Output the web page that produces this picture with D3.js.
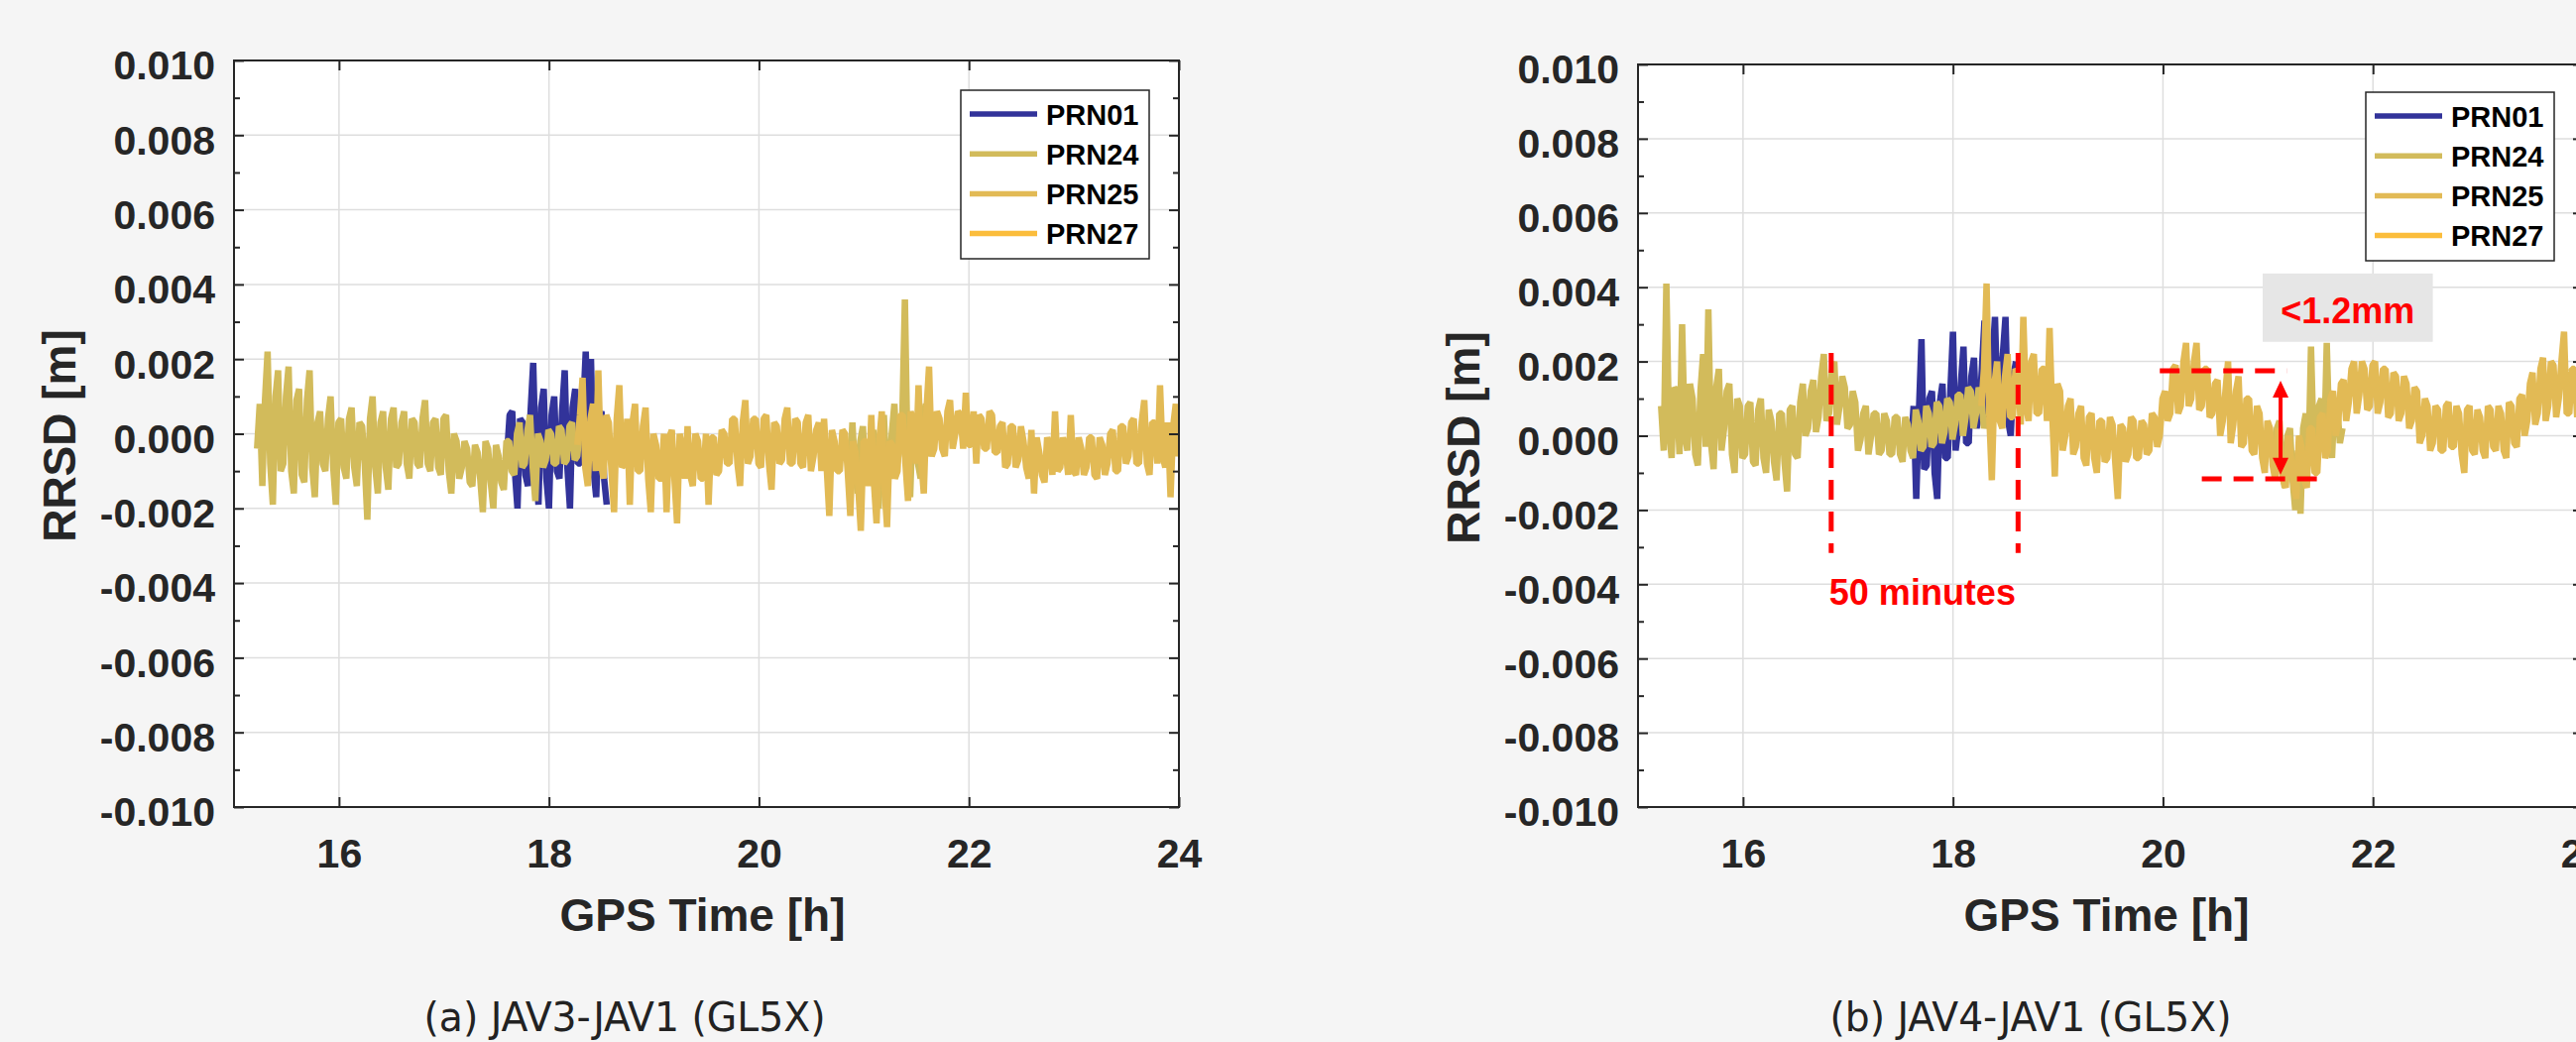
<!DOCTYPE html>
<html>
<head>
<meta charset="utf-8">
<script src="https://cdn.jsdelivr.net/npm/d3@7"></script>
<style>
  html, body { margin: 0; padding: 0; background: #f5f5f5; }
  svg { display: block; }
</style>
</head>
<body>
<div id="chart"></div>
<script>
// AXES
var xDomain = [15, 24];
var yDomain = [-0.010, 0.010];
var xTicks = [16, 18, 20, 22, 24];
var xTickLabels = ["16", "18", "20", "22", "24"];
var yTicks = [-0.010, -0.008, -0.006, -0.004, -0.002, 0.000, 0.002, 0.004, 0.006, 0.008, 0.010];
var yTickLabels = ["-0.010", "-0.008", "-0.006", "-0.004", "-0.002", "0.000", "0.002", "0.004", "0.006", "0.008", "0.010"];
var yMinor = [-0.009, -0.007, -0.005, -0.003, -0.001, 0.001, 0.003, 0.005, 0.007, 0.009];

var prnNames = ["PRN01", "PRN24", "PRN25", "PRN27"];
var prnColors = ["#32339a", "#d2bb5b", "#e2ba55", "#fbbd3c"];
var captions = ["(a) JAV3-JAV1 (GL5X)", "(b) JAV4-JAV1 (GL5X)"];

// SERIES, one value every DT hours, in units of 0.1 mm
var DT = 0.025;

// panel (a) JAV3-JAV1
var aPRN01Start = 17.60;
var aPRN01 = [-6,5,6,-10,-20,4,3,-11,-14,6,19,-9,-19,7,12,-12,-20,5,10,-10,
  -12,6,17,-9,-20,7,12,-8,-8,6,22,-5,20,-10,-17,4,6,-12,-19];
var aPRN24Start = 15.22;
var aPRN24 = [-4,8,-14,9,22,-8,-19,10,17,-10,-8,10,18,-10,-16,9,12,-11,-13,9,
  17,-9,-17,3,6,-8,-10,4,10,-9,-19,3,4,-9,-12,4,7,-9,-14,3,
  2,-8,-23,4,10,-9,-16,3,6,-9,-15,4,7,-9,-8,3,6,-8,-12,4,
  3,-8,-9,4,9,-8,-10,3,4,-9,-11,4,5,-10,-16,0,-2,-12,-9,-2,
  -4,-13,-14,-3,-5,-12,-21,-2,-4,-13,-20,-3,-6,-13,-15,-2,-2,-10,-11,0,
  3,-9,-8,1,5,-9,-18,0,-2,-9,-7,1,0,-8,-8,2,1,-8,-7,2,
  3,-7,-6,2,-2];
var aPRN24bStart = 20.84;
var aPRN24b = [-6,-12,3,-10,-16,-2,2,-13,-12,-1,1,-14,-20,-2,5,-12,-11,0,8,-8,
  -4,4,36,-6,-17,4,5,-8,-12,5,8,-6,-3];
var aPRN25Start = 18.27;
var aPRN25 = [-3,5,15,-9,-14,4,8,-10,17,-8,-12,5,3,-10,-21,4,13,-9,-8,4,
  -19,3,8,-10,-10,2,7,-12,-21,0,-3,-12,-12,0,-21,-1,1,-12,-24,0,
  -4,-12,2,-11,-14,0,-2,-12,-12,0,-19,-1,-1,-11,-10,1,0,-8,-8,4,
  4,-8,-14,3,9,-8,-6,4,4,-8,-9,4,5,-8,-15,3,2,-8,-7,4,
  7,-8,-8,4,3,-8,-9,3,5,-10,-6,1,3,-10,4,-9,-22,1,-2,-10,
  -10,1,0,-10,-22,-2,-5,-14,-26,-2,-2,-14,5,-13,-24,-2,6,-14,-25,-2,
  -3,-12,-10,5,5,-8,-18,6,3,-8,13,-7,-16,6,18,-6,-4,6,4,-4,
  -6,6,9,-4,0,6,5,-4,11,-3,-3,6,-8,5,4,-4,-4,6,5,-5,
  -5,2,3,-9,-8,2,2,-9,-7,2,-2,-9,-12,1,-16,-1,-5,-11,-13,-1,
  -3,-11,6,-10,-9,-1,-4,-11,5,-10,-11,-1,-4,-11,-9,-1,-1,-11,-12,-1,
  -3,-11,-8,0,1,-10,-10,2,2,-8,-6,3,4,-8,-8,3,9,-8,-11,3,
  3,-8,13,-6,-9,3,-17,2,8,-6,-2];
var aPRN27Start = 22.00;
var aPRN27 = [];

// panel (b) JAV4-JAV1
var bPRN01Start = 17.60;
var bPRN01 = [-3,8,-17,6,26,-9,-8,10,12,-10,-17,9,14,-6,-6,12,28,-4,2,14,
  24,-2,-2,16,21,2,6,18,31,4,8,20,32,6,14,22,32,4,0,16,20];
var bPRN24Start = 15.22;
var bPRN24 = [8,-4,41,2,-6,13,12,-5,30,0,-4,14,10,-5,-8,12,22,-3,34,-2,
  -9,13,18,-4,2,12,14,-5,-10,10,8,-6,-5,8,9,-7,-8,7,10,-6,
  -10,7,4,-7,-12,6,6,-7,-15,7,8,-5,-6,9,14,0,2,12,15,1,
  5,16,22,4,6,17,20,3,8,16,13,2,3,12,9,-4,-1,6,8,-5,
  0,6,6,-5,-4,6,4,-5,-5,5,5,-5,-7,5,3,-4,-6,7,4,-4,
  -3,8,6,-3,-2,9,8,-2,1,10,9,-1,3,11,11,0,5,13,12,2,
  6,13,10,2,5];
var bPRN24bStart = 21.06;
var bPRN24b = [-8,2,4,-10,-14,0,2,-12,-20,-4,-21,2,6,-8,24,-2,-8,8,10,-4,
  25,0,-6,10,8,-2,2];
var bPRN25Start = 18.27;
var bPRN25 = [8,18,41,6,-12,14,20,4,2,16,22,5,5,18,17,3,32,8,4,20,
  22,6,6,18,18,4,29,6,-11,14,12,-4,0,8,10,-5,-3,6,8,-6,
  -8,5,6,-6,-10,4,4,-7,-6,5,3,-7,-17,3,2,-7,-5,5,4,-6,
  -6,4,3,-5,-4,6,5,-3,0,10,12,4,6,18,19,6,8,20,25,8,
  10,20,25,7,8,18,18,5,6,14,15,0,4,12,20,-2,3,12,16,-3,
  -2,10,10,-4,-5,8,6,-6,-10,4,2,-8,-12,2,-4,-12,-14,0,-6,-13,
  -17,0,-3,-12,-14,2,2,-10,-10,5,6,-6,-4,10,12,0,4,14,15,4,
  9,18,20,6,11,20,18,7,8,19,20,6,9,18,18,5,6,17,16,4,
  6,16,14,2,4,13,12,-2,0,10,8,-4,-2,8,7,-4,-4,8,9,-3,
  -3,8,6,-5,-10,7,8,-4,-5,7,5,-4,-6,8,7,-3,-4,8,6,-4,
  -6,9,8,-2,-3,10,11,0,4,14,17,3,6,18,21,4,8,20,19,5,
  10,20,28,6,6,18,18,5,10];
var bPRN27Start = 22.00;
var bPRN27 = [];

// ANNOTATIONS (panel b), data units
var spanTimes = [16.84, 18.62];
var spanRange = [-0.00316, 0.00223];
var spanLabel = "50 minutes";
var bandTopT = [19.97, 21.18], bandTopV = 0.00175;
var bandBotT = [20.37, 21.57], bandBotV = -0.00116;
var arrowT = 21.12, arrowRange = [-0.00105, 0.00148];
var boxT = [20.95, 22.57], boxRange = [0.00253, 0.00437];
var boxLabel = "<1.2mm";

var svgWidth = 2598, svgHeight = 1051;
var axisColor = "#262626";
var font = "'Liberation Sans', Arial, Helvetica, sans-serif";

var svg = d3.select("#chart").append("svg")
  .attr("width", svgWidth)
  .attr("height", svgHeight);

svg.append("rect")
  .attr("width", svgWidth)
  .attr("height", svgHeight)
  .attr("fill", "#f5f5f5");

var panels = [
  { id: "a", left: 236, top: 61, width: 953, height: 753, capX: 630, legendX: 969, legendY: 91,
    series: [[0, aPRN01Start, aPRN01], [1, aPRN24Start, aPRN24], [1, aPRN24bStart, aPRN24b],
             [2, aPRN25Start, aPRN25], [3, aPRN27Start, aPRN27]] },
  { id: "b", left: 1652, top: 65, width: 953, height: 749, capX: 2048, legendX: 2386, legendY: 93,
    series: [[0, bPRN01Start, bPRN01], [1, bPRN24Start, bPRN24], [1, bPRN24bStart, bPRN24b],
             [2, bPRN25Start, bPRN25], [3, bPRN27Start, bPRN27]] }
];

function styleTicks(g) {
  g.select(".domain").remove();
  g.selectAll(".tick line").attr("stroke", axisColor).attr("stroke-width", 2);
  g.selectAll("text")
    .attr("fill", axisColor)
    .attr("font-family", font)
    .attr("font-weight", "bold")
    .attr("font-size", 41);
}

function drawPanel(p, i) {
  var x = d3.scaleLinear().domain(xDomain).range([p.left, p.left + p.width]);
  var y = d3.scaleLinear().domain(yDomain).range([p.top + p.height, p.top]);
  var bottom = p.top + p.height;

  svg.append("clipPath").attr("id", "clip-" + p.id)
    .append("rect")
      .attr("x", p.left).attr("y", p.top)
      .attr("width", p.width).attr("height", p.height);

  svg.append("rect")
    .attr("x", p.left).attr("y", p.top)
    .attr("width", p.width).attr("height", p.height)
    .attr("fill", "white");

  // GRID
  var grid = svg.append("g").attr("stroke", "#dedede").attr("stroke-width", 1.5);
  grid.selectAll(null).data(xTicks).enter().append("line")
    .attr("x1", function(d) { return x(d); })
    .attr("x2", function(d) { return x(d); })
    .attr("y1", p.top).attr("y2", bottom);
  grid.selectAll(null).data(yTicks).enter().append("line")
    .attr("y1", function(d) { return y(d); })
    .attr("y2", function(d) { return y(d); })
    .attr("x1", p.left).attr("x2", p.left + p.width);

  // DATA LINES
  var line = d3.line()
    .x(function(d) { return x(d[0]); })
    .y(function(d) { return y(d[1]); });
  var plot = svg.append("g").attr("clip-path", "url(#clip-" + p.id + ")");
  p.series.forEach(function(s) {
    if (!s[2].length) return;
    var pts = s[2].map(function(v, k) { return [s[1] + k * DT, v * 1e-4]; });
    plot.append("path")
      .datum(pts)
      .attr("d", line)
      .attr("fill", "none")
      .attr("stroke", prnColors[s[0]])
      .attr("stroke-width", 6.5)
      .attr("stroke-linejoin", "bevel");
  });

  // AXES (ticks point inward, box on)
  var left = svg.append("g")
    .attr("transform", "translate(" + p.left + ",0)")
    .call(d3.axisLeft(y).tickValues(yTicks).tickSize(-10).tickSizeOuter(0).tickPadding(19)
      .tickFormat(function(d, k) { return yTickLabels[k]; }));
  styleTicks(left);
  left.selectAll("text").attr("dy", "0.46em");

  styleTicks(svg.append("g").attr("transform", "translate(" + p.left + ",0)")
    .call(d3.axisLeft(y).tickValues(yMinor).tickSize(-6).tickSizeOuter(0).tickFormat("")));
  styleTicks(svg.append("g").attr("transform", "translate(" + (p.left + p.width) + ",0)")
    .call(d3.axisRight(y).tickValues(yTicks).tickSize(-10).tickSizeOuter(0).tickFormat("")));
  styleTicks(svg.append("g").attr("transform", "translate(" + (p.left + p.width) + ",0)")
    .call(d3.axisRight(y).tickValues(yMinor).tickSize(-6).tickSizeOuter(0).tickFormat("")));

  var bot = svg.append("g")
    .attr("transform", "translate(0," + bottom + ")")
    .call(d3.axisBottom(x).tickValues(xTicks).tickSize(-10).tickSizeOuter(0).tickPadding(32)
      .tickFormat(function(d, k) { return xTickLabels[k]; }));
  styleTicks(bot);
  styleTicks(svg.append("g").attr("transform", "translate(0," + p.top + ")")
    .call(d3.axisTop(x).tickValues(xTicks).tickSize(-10).tickSizeOuter(0).tickFormat("")));

  svg.append("rect")
    .attr("x", p.left).attr("y", p.top)
    .attr("width", p.width).attr("height", p.height)
    .attr("fill", "none")
    .attr("stroke", axisColor)
    .attr("stroke-width", 2);

  // AXIS TITLES
  svg.append("text")
    .attr("x", p.left + p.width / 2 - 4)
    .attr("y", 939)
    .attr("text-anchor", "middle")
    .attr("font-family", font).attr("font-weight", "bold").attr("font-size", 46)
    .attr("fill", axisColor)
    .text("GPS Time [h]");

  svg.append("text")
    .attr("transform", "translate(" + (p.left - 160) + "," + (p.top + p.height / 2 + 2) + ") rotate(-90)")
    .attr("text-anchor", "middle")
    .attr("font-family", font).attr("font-weight", "bold").attr("font-size", 46)
    .attr("fill", axisColor)
    .text("RRSD [m]");

  // LEGEND
  var lg = svg.append("g").attr("transform", "translate(" + p.legendX + "," + p.legendY + ")");
  lg.append("rect")
    .attr("width", 190).attr("height", 170)
    .attr("fill", "white")
    .attr("stroke", axisColor)
    .attr("stroke-width", 1.5);
  var item = lg.selectAll(null).data(prnNames).enter().append("g")
    .attr("transform", function(d, k) { return "translate(0," + (24 + k * 40.2) + ")"; });
  item.append("line")
    .attr("x1", 9).attr("x2", 77)
    .attr("stroke", function(d, k) { return prnColors[k]; })
    .attr("stroke-width", 5.5);
  item.append("text")
    .attr("x", 86).attr("y", 10.5)
    .attr("font-family", font).attr("font-weight", "bold").attr("font-size", 29)
    .attr("fill", "black")
    .text(function(d) { return d; });

  // CAPTION
  svg.append("text")
    .attr("x", p.capX)
    .attr("y", 1040)
    .attr("text-anchor", "middle")
    .attr("font-family", "'Liberation Sans Narrow', 'DejaVu Sans Condensed', Roboto, sans-serif")
    .attr("font-weight", 300)
    .attr("font-size", 40)
    .attr("fill", "#222")
    .attr("textLength", 405)
    .attr("lengthAdjust", "spacingAndGlyphs")
    .text(captions[i]);

  return { x: x, y: y };
}

var scales = panels.map(drawPanel);

// RED ANNOTATIONS ON PANEL (b)
var xb = scales[1].x, yb = scales[1].y;
var ann = svg.append("g");

ann.selectAll(null).data(spanTimes).enter().append("line")
  .attr("x1", function(d) { return xb(d); })
  .attr("x2", function(d) { return xb(d); })
  .attr("y1", yb(spanRange[1]))
  .attr("y2", yb(spanRange[0]))
  .attr("stroke", "#ff0000").attr("stroke-width", 5).attr("stroke-dasharray", "20,12");

ann.append("text")
  .attr("x", xb(spanTimes[0]) - 2)
  .attr("y", yb(-0.00454))
  .attr("font-family", font).attr("font-weight", "bold").attr("font-size", 36)
  .attr("fill", "#ff0000")
  .text(spanLabel);

ann.append("line")
  .attr("x1", xb(bandTopT[0])).attr("x2", xb(bandTopT[1]))
  .attr("y1", yb(bandTopV)).attr("y2", yb(bandTopV))
  .attr("stroke", "#ff0000").attr("stroke-width", 5).attr("stroke-dasharray", "20,12");
ann.append("line")
  .attr("x1", xb(bandBotT[0])).attr("x2", xb(bandBotT[1]))
  .attr("y1", yb(bandBotV)).attr("y2", yb(bandBotV))
  .attr("stroke", "#ff0000").attr("stroke-width", 5).attr("stroke-dasharray", "20,12");

var ax = xb(arrowT), aTop = yb(arrowRange[1]), aBot = yb(arrowRange[0]);
ann.append("line")
  .attr("x1", ax).attr("x2", ax)
  .attr("y1", aTop + 14).attr("y2", aBot - 14)
  .attr("stroke", "#ff0000").attr("stroke-width", 4);
ann.append("path")
  .attr("d", "M" + ax + "," + aTop + "L" + (ax - 8) + "," + (aTop + 17) + "L" + (ax + 8) + "," + (aTop + 17) + "Z")
  .attr("fill", "#ff0000");
ann.append("path")
  .attr("d", "M" + ax + "," + aBot + "L" + (ax - 8) + "," + (aBot - 17) + "L" + (ax + 8) + "," + (aBot - 17) + "Z")
  .attr("fill", "#ff0000");

ann.append("rect")
  .attr("x", xb(boxT[0])).attr("y", yb(boxRange[1]))
  .attr("width", xb(boxT[1]) - xb(boxT[0]))
  .attr("height", yb(boxRange[0]) - yb(boxRange[1]))
  .attr("fill", "#e6e6e6");
ann.append("text")
  .attr("x", (xb(boxT[0]) + xb(boxT[1])) / 2)
  .attr("y", yb(boxRange[0]) - 19)
  .attr("text-anchor", "middle")
  .attr("font-family", font).attr("font-weight", "bold").attr("font-size", 36)
  .attr("fill", "#ff0000")
  .text(boxLabel);
</script>
</body>
</html>
